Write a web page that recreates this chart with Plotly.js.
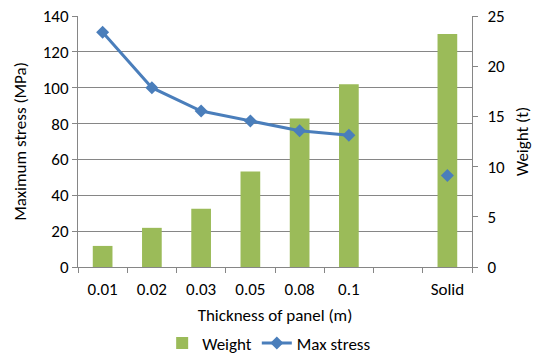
<!DOCTYPE html>
<html>
<head>
<meta charset="utf-8">
<script src="https://cdn.plot.ly/plotly-3.0.1.min.js"></script>
<style>
  html, body { margin: 0; padding: 0; background: #fff; }
  #chart { width: 533px; height: 356px; }
</style>
</head>
<body>
<div id="chart"></div>
<script>
// Panel thickness categories (blank slot separates the solid case)
const categories = ["0.01", "0.02", "0.03", "0.05", "0.08", "0.1", " ", "Solid"];
// Weight of the structure, tonnes (right axis)
const weightT = [2.1, 3.9, 5.8, 9.5, 14.8, 18.2, null, 23.2];
// Maximum stress, MPa (left axis)
const maxStressMPa = [131, 100, 87, 81.5, 76, 73.5, null, 51];

const font = "Carlito, Lato, 'Open Sans', sans-serif";
const axisGrey = "#868686";
const fs = 17;

const traces = [
  {
    type: "bar",
    name: "Weight",
    x: categories,
    y: weightT,
    yaxis: "y",
    width: 0.4,
    marker: { color: "#9BBB59" }
  },
  {
    type: "scatter",
    mode: "lines+markers",
    name: "Max stress",
    x: categories,
    y: maxStressMPa,
    yaxis: "y2",
    connectgaps: false,
    line: { color: "#4A7EBB", width: 3 },
    marker: { symbol: "diamond", size: 10, color: "#4A7EBB" }
  }
];

const layout = {
  width: 533,
  height: 356,
  margin: { l: 78, r: 61, t: 16, b: 89 },
  paper_bgcolor: "#fff",
  plot_bgcolor: "#fff",
  font: { family: font, size: fs, color: "#000" },
  showlegend: true,
  legend: {
    orientation: "h",
    x: 0.505, xanchor: "center", xref: "container",
    y: 0.035, yanchor: "middle", yref: "container",
    font: { family: font, size: fs },
    itemwidth: 30,
    tracegroupgap: 0
  },
  xaxis: {
    type: "category",
    categoryorder: "array",
    categoryarray: categories,
    range: [-0.5, 7.5],
    tickson: "boundaries",
    ticks: "outside",
    ticklen: 5,
    tickcolor: axisGrey,
    ticklabelstandoff: 7,
    showline: true,
    linecolor: axisGrey,
    linewidth: 1,
    showgrid: false,
    zeroline: false,
    automargin: false,
    tickfont: { size: fs },
    title: { text: "Thickness of panel (m)", font: { size: fs }, standoff: 12 }
  },
  // Weight axis on the right
  yaxis: {
    side: "right",
    range: [0, 25],
    dtick: 5,
    ticks: "outside",
    ticklen: 5,
    tickcolor: axisGrey,
    ticklabelstandoff: 6,
    showline: true,
    linecolor: axisGrey,
    showgrid: false,
    zeroline: false,
    automargin: false,
    tickfont: { size: fs },
    title: { text: "Weight (t)", font: { size: fs }, standoff: 13 }
  },
  // Stress axis on the left, carries the gridlines
  yaxis2: {
    overlaying: "y",
    side: "left",
    range: [0, 140],
    dtick: 20,
    ticks: "outside",
    ticklen: 5,
    tickcolor: axisGrey,
    showline: true,
    linecolor: axisGrey,
    showgrid: true,
    gridcolor: axisGrey,
    gridwidth: 1,
    zeroline: false,
    automargin: false,
    tickfont: { size: fs },
    title: { text: "Maximum stress (MPa)", font: { size: fs }, standoff: 11 }
  }
};

Plotly.newPlot("chart", traces, layout, { displayModeBar: false, staticPlot: true });
</script>
</body>
</html>
